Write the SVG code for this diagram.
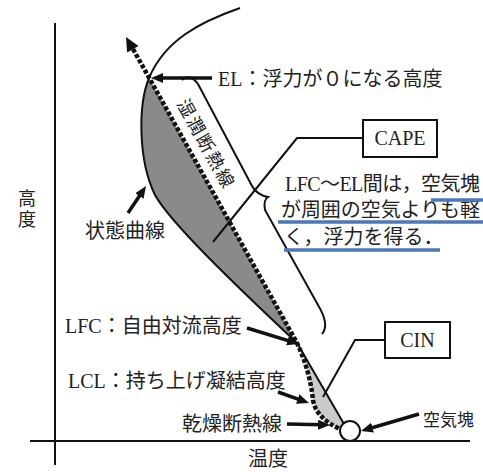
<svg xmlns="http://www.w3.org/2000/svg" width="483" height="472" viewBox="0 0 483 472">
<style>
text{font-family:'Liberation Serif','Noto Sans CJK JP',serif;fill:#222;}
.t20{font-size:20px;}
.thin{fill:none;stroke:#111;stroke-width:2;}
.arr{fill:none;stroke:#111;stroke-width:3.5;marker-end:url(#ah);}
.dot{fill:none;stroke:#111;stroke-width:4.5;stroke-dasharray:4 2;}
.blue{stroke:#4a78b8;stroke-width:3.5;}
.box{fill:#fff;stroke:#111;stroke-width:2;}
</style>
<defs>
<marker id="ah" markerUnits="userSpaceOnUse" markerWidth="14" markerHeight="12" refX="4" refY="5" orient="auto">
<path d="M0,0 L12,5 L0,10 z" fill="#111"/>
</marker>
</defs>
<rect width="483" height="472" fill="#fff"/>
<g id="axes">
<line x1="55" y1="23" x2="55" y2="465" stroke="#111" stroke-width="2"/>
<line x1="30" y1="441" x2="470" y2="441" stroke="#111" stroke-width="2"/>
<text class="t20" x="268" y="466" text-anchor="middle">温度</text>
<text x="27" y="205" font-size="18" text-anchor="middle">高</text>
<text x="27" y="226" font-size="18" text-anchor="middle">度</text>
</g>
<g id="areas">
<path d="M149,78 C138,105 138,160 155,195 C170,222 230,280 297,343 Z" fill="#8a8a8a"/>
<path d="M297,343 L344,424 L340,429 Q316,418 313,400 C311,380 305,360 297,343 Z" fill="#cbcbcb"/>
</g>
<g id="state-curve">
<path class="thin" d="M240,8 C200,22 165,40 149,78 C138,105 138,160 155,195 C170,222 230,280 297,343 L344,424"/>
</g>
<g id="adiabat">
<path class="dot" d="M133,49 L297,343 C305,360 311,380 313,400 Q316,418 340,429"/>
<polygon points="126,37 127.1,52.4 138.5,46" fill="#111"/>
<text transform="translate(190.8,152.5) rotate(61)" x="0" y="-11" font-size="18" letter-spacing="2" text-anchor="middle">湿潤断熱線</text>
</g>
<g id="brace">
<path class="thin" d="M182,80 Q190,73 198,84 L252,186 Q257,195 268,197 Q263,200 265,210 L318,305 Q330,325 322,334"/>
</g>
<g id="parcel">
<circle cx="350" cy="431" r="10" fill="#fff" stroke="#111" stroke-width="2"/>
</g>
<g id="connectors">
<line class="arr" x1="212" y1="78" x2="159" y2="78"/>
<line class="arr" x1="128" y1="213" x2="141.6" y2="192.7"/>
<line class="arr" x1="247" y1="328" x2="291.4" y2="341.6"/>
<line class="arr" x1="278" y1="392" x2="301.5" y2="400.3"/>
<line class="arr" x1="287" y1="424" x2="322" y2="424.8"/>
<line class="arr" x1="419" y1="414" x2="368.7" y2="428.8"/>
<polyline class="thin" points="363,138 297,138 213,242"/>
<polyline class="thin" points="385,340 355,340 323,397"/>
</g>
<g id="label-el"><text class="t20" x="218" y="86">EL：浮力が０になる高度</text></g>
<g id="cape">
<rect class="box" x="363" y="120" width="74" height="37"/>
<text class="t20" x="400" y="145" text-anchor="middle">CAPE</text>
</g>
<g id="cape-note">
<text class="t20" x="285" y="191" textLength="195">LFC～EL間は，空気塊</text>
<text class="t20" x="281" y="217" textLength="199">が周囲の空気よりも軽</text>
<text class="t20" x="284" y="244">く，浮力を得る．</text>
<line class="blue" x1="431" y1="200" x2="483" y2="200"/>
<line class="blue" x1="278" y1="222" x2="483" y2="222"/>
<line class="blue" x1="284" y1="250" x2="440" y2="250"/>
</g>
<g id="label-state"><text class="t20" x="85" y="238">状態曲線</text></g>
<g id="label-lfc"><text class="t20" x="65" y="333">LFC：自由対流高度</text></g>
<g id="label-lcl"><text class="t20" x="68" y="388">LCL：持ち上げ凝結高度</text></g>
<g id="label-dry"><text class="t20" x="182" y="431">乾燥断熱線</text></g>
<g id="label-parcel"><text x="423" y="426" font-size="17">空気塊</text></g>
<g id="cin">
<rect class="box" x="385" y="322" width="65" height="36"/>
<text class="t20" x="417.5" y="347" text-anchor="middle">CIN</text>
</g>
</svg>
